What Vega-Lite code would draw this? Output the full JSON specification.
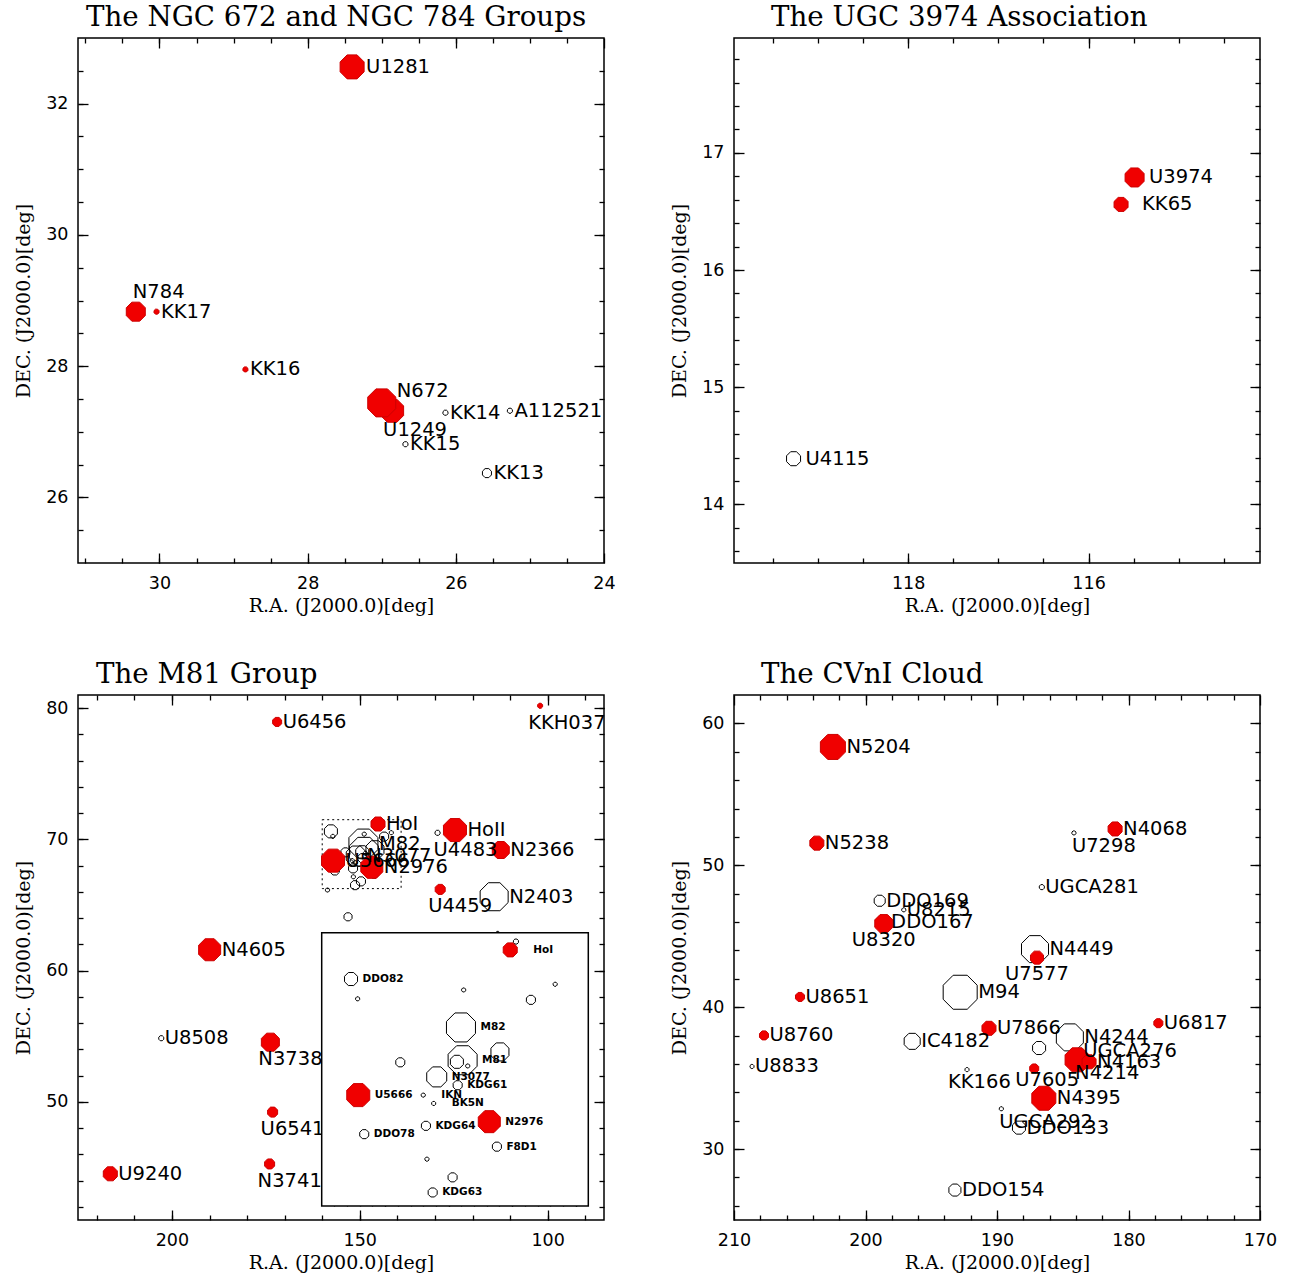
{
  "$schema": "https://vega.github.io/schema/vega-lite/v6.json",
  "background": "white",
  "padding": {"left": 13, "top": 2, "right": 5, "bottom": 5},
  "spacing": {"row": 42, "column": 53},
  "columns": 2,
  "config": {
    "view": {"stroke": "#000000", "strokeWidth": 1.5},
    "title": {"font": "DejaVu Serif", "fontSize": 27.7, "fontWeight": "normal", "anchor": "start", "frame": "group", "baseline": "alphabetic", "offset": 6, "color": "#000000"},
    "axis": {"domain": false, "grid": false, "labelFont": "DejaVu Sans", "labelFontSize": 17.5, "labelColor": "#000000", "titleFont": "DejaVu Serif", "titleFontSize": 19, "titleFontWeight": "normal", "titleColor": "#000000", "tickColor": "#000000", "tickWidth": 1.3, "labelFlush": false, "labelOverlap": false},
    "text": {"font": "DejaVu Sans", "fontSize": 19.5, "color": "#000000"}
  },
  "datasets": {
    "box": [{"ra1": 160, "ra2": 139, "dec1": 66.25, "dec2": 71.5}],
    "p1": [
      {"name": "KK14", "ra": 26.14, "dec": 27.29, "lum": 5, "kind": "open"},
      {"name": "A112521", "ra": 25.27, "dec": 27.32, "lum": 5, "kind": "open"},
      {"name": "KK15", "ra": 26.68, "dec": 26.81, "lum": 5, "kind": "open"},
      {"name": "KK13", "ra": 25.58, "dec": 26.37, "lum": 9, "kind": "open"},
      {"name": "U1281", "ra": 27.40, "dec": 32.56, "lum": 24, "kind": "filled"},
      {"name": "N784", "ra": 30.32, "dec": 28.83, "lum": 19, "kind": "filled"},
      {"name": "KK17", "ra": 30.04, "dec": 28.83, "lum": 5, "kind": "filled"},
      {"name": "KK16", "ra": 28.84, "dec": 27.95, "lum": 5, "kind": "filled"},
      {"name": "U1249", "ra": 26.86, "dec": 27.32, "lum": 23, "kind": "filled"},
      {"name": "N672", "ra": 27.0, "dec": 27.44, "lum": 28, "kind": "filled"}
    ],
    "p2": [
      {"name": "U4115", "ra": 119.27, "dec": 14.39, "lum": 14, "kind": "open"},
      {"name": "U3974", "ra": 115.49, "dec": 16.79, "lum": 19, "kind": "filled"},
      {"name": "KK65", "ra": 115.64, "dec": 16.56, "lum": 14, "kind": "filled"}
    ],
    "m81": [
      {"name": "U8508", "ra": 202.84, "dec": 54.85, "lum": 5, "kind": "open"},
      {"name": "U4483", "ra": 129.3, "dec": 70.5, "lum": 5, "kind": "open"},
      {"name": "N2403", "ra": 114.24, "dec": 65.63, "lum": 28, "kind": "open"},
      {"name": "", "ra": 153.13, "dec": 64.1, "lum": 8, "kind": "open"},
      {"name": "", "ra": 158.6, "dec": 66.14, "lum": 4, "kind": "open"},
      {"name": "", "ra": 113.3, "dec": 62.84, "lum": 4, "kind": "open"},
      {"name": "", "ra": 144.70, "dec": 71.33, "lum": 5, "kind": "open"},
      {"name": "DDO82", "ra": 157.69, "dec": 70.61, "lum": 13, "kind": "open"},
      {"name": "", "ra": 157.17, "dec": 70.23, "lum": 4, "kind": "open"},
      {"name": "", "ra": 148.82, "dec": 70.40, "lum": 4, "kind": "open"},
      {"name": "", "ra": 143.52, "dec": 70.21, "lum": 9, "kind": "open"},
      {"name": "", "ra": 141.61, "dec": 70.51, "lum": 4, "kind": "open"},
      {"name": "M82", "ra": 149.03, "dec": 69.68, "lum": 29, "kind": "open"},
      {"name": "M81", "ra": 148.90, "dec": 69.05, "lum": 29, "kind": "open"},
      {"name": "", "ra": 149.35, "dec": 69.02, "lum": 13, "kind": "open"},
      {"name": "", "ra": 148.50, "dec": 68.94, "lum": 4, "kind": "open"},
      {"name": "", "ra": 145.96, "dec": 69.21, "lum": 18, "kind": "open"},
      {"name": "", "ra": 153.81, "dec": 69.01, "lum": 9, "kind": "open"},
      {"name": "N3077", "ra": 150.94, "dec": 68.73, "lum": 20, "kind": "open"},
      {"name": "KDG61", "ra": 149.29, "dec": 68.57, "lum": 9, "kind": "open"},
      {"name": "IKN", "ra": 152.0, "dec": 68.38, "lum": 4, "kind": "open"},
      {"name": "BK5N", "ra": 151.18, "dec": 68.22, "lum": 4, "kind": "open"},
      {"name": "KDG64", "ra": 151.79, "dec": 67.79, "lum": 9, "kind": "open"},
      {"name": "DDO78", "ra": 156.65, "dec": 67.63, "lum": 9, "kind": "open"},
      {"name": "F8D1", "ra": 146.20, "dec": 67.39, "lum": 9, "kind": "open"},
      {"name": "", "ra": 151.71, "dec": 67.15, "lum": 4, "kind": "open"},
      {"name": "", "ra": 149.69, "dec": 66.80, "lum": 9, "kind": "open"},
      {"name": "KDG63", "ra": 151.26, "dec": 66.51, "lum": 9, "kind": "open"},
      {"name": "U6456", "ra": 172.0, "dec": 78.95, "lum": 9, "kind": "filled"},
      {"name": "KKH037", "ra": 102.0, "dec": 80.18, "lum": 5, "kind": "filled"},
      {"name": "HoII", "ra": 124.67, "dec": 70.71, "lum": 23, "kind": "filled"},
      {"name": "N2366", "ra": 112.47, "dec": 69.19, "lum": 17, "kind": "filled"},
      {"name": "U4459", "ra": 128.6, "dec": 66.19, "lum": 10, "kind": "filled"},
      {"name": "N4605", "ra": 189.96, "dec": 61.59, "lum": 22, "kind": "filled"},
      {"name": "N3738", "ra": 173.8, "dec": 54.55, "lum": 18, "kind": "filled"},
      {"name": "U6541", "ra": 173.2, "dec": 49.22, "lum": 10, "kind": "filled"},
      {"name": "N3741", "ra": 174.0, "dec": 45.27, "lum": 10, "kind": "filled"},
      {"name": "U9240", "ra": 216.4, "dec": 44.52, "lum": 14, "kind": "filled"},
      {"name": "HoI", "ra": 145.15, "dec": 71.17, "lum": 14, "kind": "filled"},
      {"name": "U5666", "ra": 157.12, "dec": 68.38, "lum": 23, "kind": "filled"},
      {"name": "N2976", "ra": 146.80, "dec": 67.87, "lum": 22, "kind": "filled"}
    ],
    "p4": [
      {"name": "U7298", "ra": 184.15, "dec": 52.28, "lum": 4, "kind": "open"},
      {"name": "UGCA281", "ra": 186.59, "dec": 48.46, "lum": 5, "kind": "open"},
      {"name": "DDO169", "ra": 198.92, "dec": 47.50, "lum": 11, "kind": "open"},
      {"name": "U8215", "ra": 197.09, "dec": 46.86, "lum": 4, "kind": "open"},
      {"name": "DDO167", "ra": 198.28, "dec": 45.97, "lum": 4, "kind": "open"},
      {"name": "N4449", "ra": 187.11, "dec": 44.09, "lum": 27, "kind": "open"},
      {"name": "M94", "ra": 192.80, "dec": 41.05, "lum": 34, "kind": "open"},
      {"name": "U8833", "ra": 208.63, "dec": 35.82, "lum": 4, "kind": "open"},
      {"name": "IC4182", "ra": 196.45, "dec": 37.59, "lum": 16, "kind": "open"},
      {"name": "N4244", "ra": 184.46, "dec": 37.87, "lum": 27, "kind": "open"},
      {"name": "", "ra": 186.80, "dec": 37.12, "lum": 13, "kind": "open"},
      {"name": "UGCA276", "ra": 183.67, "dec": 36.93, "lum": 4, "kind": "open"},
      {"name": "KK166", "ra": 192.28, "dec": 35.60, "lum": 4, "kind": "open"},
      {"name": "UGCA292", "ra": 189.67, "dec": 32.84, "lum": 4, "kind": "open"},
      {"name": "DDO133", "ra": 188.33, "dec": 31.51, "lum": 13, "kind": "open"},
      {"name": "DDO154", "ra": 193.20, "dec": 27.11, "lum": 12, "kind": "open"},
      {"name": "N5204", "ra": 202.48, "dec": 58.34, "lum": 25, "kind": "filled"},
      {"name": "N5238", "ra": 203.70, "dec": 51.56, "lum": 14, "kind": "filled"},
      {"name": "N4068", "ra": 181.02, "dec": 52.56, "lum": 14, "kind": "filled"},
      {"name": "U8320", "ra": 198.61, "dec": 45.89, "lum": 18, "kind": "filled"},
      {"name": "U7577", "ra": 186.96, "dec": 43.49, "lum": 13, "kind": "filled"},
      {"name": "U8651", "ra": 204.98, "dec": 40.72, "lum": 9, "kind": "filled"},
      {"name": "U8760", "ra": 207.72, "dec": 38.01, "lum": 9, "kind": "filled"},
      {"name": "U7866", "ra": 190.61, "dec": 38.51, "lum": 14, "kind": "filled"},
      {"name": "N4214", "ra": 183.91, "dec": 36.29, "lum": 24, "kind": "filled"},
      {"name": "N4163", "ra": 183.0, "dec": 36.15, "lum": 14, "kind": "filled"},
      {"name": "U7605", "ra": 187.17, "dec": 35.68, "lum": 9, "kind": "filled"},
      {"name": "N4395", "ra": 186.44, "dec": 33.58, "lum": 24, "kind": "filled"},
      {"name": "U6817", "ra": 177.73, "dec": 38.87, "lum": 9, "kind": "filled"}
    ]
  },
  "concat": [
    {
      "width": 526, "height": 525,
      "title": {"text": "The NGC 672 and NGC 784 Groups", "dx": 8},
      "data": {"name": "p1"},
      "resolve": {"axis": {"x": "independent", "y": "independent"}},
      "layer": [
        {
          "mark": {"type": "point", "shape": "M-0.414,-1L0.414,-1L1,-0.414L1,0.414L0.414,1L-0.414,1L-1,0.414L-1,-0.414Z", "filled": true, "opacity": 1, "strokeWidth": 1},
          "encoding": {
            "x": {"field": "ra", "type": "quantitative", "scale": {"domain": [31.1, 24], "zero": false, "nice": false}, "axis": {"orient": "bottom", "ticks": false, "values": [30, 28, 26, 24], "labelPadding": 11, "title": "R.A. (J2000.0)[deg]", "titlePadding": 5}},
            "y": {"field": "dec", "type": "quantitative", "scale": {"domain": [25, 33], "zero": false, "nice": false}, "axis": {"orient": "left", "ticks": false, "values": [26, 28, 30, 32], "labelPadding": 10, "title": "DEC. (J2000.0)[deg]", "titlePadding": 12}},
            "size": {"field": "lum", "type": "quantitative", "scale": {"type": "pow", "exponent": 2, "domain": [0, 40], "range": [0, 1600]}, "legend": null},
            "fill": {"field": "kind", "type": "nominal", "scale": {"domain": ["filled", "open"], "range": ["#f00000", "transparent"]}, "legend": null},
            "stroke": {"field": "kind", "type": "nominal", "scale": {"domain": ["filled", "open"], "range": ["#cc0000", "#000000"]}, "legend": null}
          }
        },
        {
          "transform": [{"filter": {"field": "name", "oneOf": ["U1281", "KK17", "KK16", "KK14", "A112521", "KK15", "KK13"]}}],
          "mark": {"type": "text", "align": "left", "baseline": "middle", "dx": {"expr": "datum.lum / 2 + 2"}},
          "encoding": {
            "x": {"field": "ra", "type": "quantitative", "scale": {"domain": [31.1, 24], "zero": false, "nice": false}, "axis": {"orient": "bottom", "labels": false, "title": null, "values": [30, 28, 26, 24], "tickSize": 10, "offset": -10}},
            "y": {"field": "dec", "type": "quantitative", "scale": {"domain": [25, 33], "zero": false, "nice": false}, "axis": {"orient": "left", "labels": false, "title": null, "values": [26, 28, 30, 32], "tickSize": 10, "offset": -10}},
            "text": {"field": "name"}
          }
        },
        {
          "transform": [{"filter": {"field": "name", "oneOf": ["N784"]}}],
          "mark": {"type": "text", "align": "left", "baseline": "middle", "dx": -3, "dy": -20},
          "encoding": {
            "x": {"field": "ra", "type": "quantitative", "scale": {"domain": [31.1, 24], "zero": false, "nice": false}, "axis": {"orient": "bottom", "labels": false, "title": null, "values": [24.5, 25, 25.5, 26, 26.5, 27, 27.5, 28, 28.5, 29, 29.5, 30, 30.5, 31], "tickSize": 5, "offset": -5}},
            "y": {"field": "dec", "type": "quantitative", "scale": {"domain": [25, 33], "zero": false, "nice": false}, "axis": {"orient": "left", "labels": false, "title": null, "values": [25.5, 26, 26.5, 27, 27.5, 28, 28.5, 29, 29.5, 30, 30.5, 31, 31.5, 32, 32.5], "tickSize": 5, "offset": -5}},
            "text": {"field": "name"}
          }
        },
        {
          "transform": [{"filter": {"field": "name", "oneOf": ["N672"]}}],
          "mark": {"type": "text", "align": "left", "baseline": "middle", "dx": 15, "dy": -12},
          "encoding": {
            "x": {"field": "ra", "type": "quantitative", "scale": {"domain": [31.1, 24], "zero": false, "nice": false}, "axis": {"orient": "top", "labels": false, "title": null, "values": [30, 28, 26, 24], "tickSize": 10, "offset": -10}},
            "y": {"field": "dec", "type": "quantitative", "scale": {"domain": [25, 33], "zero": false, "nice": false}, "axis": {"orient": "right", "labels": false, "title": null, "values": [26, 28, 30, 32], "tickSize": 10, "offset": -10}},
            "text": {"field": "name"}
          }
        },
        {
          "transform": [{"filter": {"field": "name", "oneOf": ["U1249"]}}],
          "mark": {"type": "text", "align": "left", "baseline": "middle", "dx": -9, "dy": 19},
          "encoding": {
            "x": {"field": "ra", "type": "quantitative", "scale": {"domain": [31.1, 24], "zero": false, "nice": false}, "axis": {"orient": "top", "labels": false, "title": null, "values": [24.5, 25, 25.5, 26, 26.5, 27, 27.5, 28, 28.5, 29, 29.5, 30, 30.5, 31], "tickSize": 5, "offset": -5}},
            "y": {"field": "dec", "type": "quantitative", "scale": {"domain": [25, 33], "zero": false, "nice": false}, "axis": {"orient": "right", "labels": false, "title": null, "values": [25.5, 26, 26.5, 27, 27.5, 28, 28.5, 29, 29.5, 30, 30.5, 31, 31.5, 32, 32.5], "tickSize": 5, "offset": -5}},
            "text": {"field": "name"}
          }
        }
      ]
    },
    {
      "width": 526, "height": 525,
      "title": {"text": "The UGC 3974 Association", "dx": 37},
      "data": {"name": "p2"},
      "resolve": {"axis": {"x": "independent", "y": "independent"}},
      "layer": [
        {
          "mark": {"type": "point", "shape": "M-0.414,-1L0.414,-1L1,-0.414L1,0.414L0.414,1L-0.414,1L-1,0.414L-1,-0.414Z", "filled": true, "opacity": 1, "strokeWidth": 1},
          "encoding": {
            "x": {"field": "ra", "type": "quantitative", "scale": {"domain": [119.93, 114.1], "zero": false, "nice": false}, "axis": {"orient": "bottom", "ticks": false, "values": [118, 116], "labelPadding": 11, "title": "R.A. (J2000.0)[deg]", "titlePadding": 5}},
            "y": {"field": "dec", "type": "quantitative", "scale": {"domain": [13.5, 17.98], "zero": false, "nice": false}, "axis": {"orient": "left", "ticks": false, "values": [14, 15, 16, 17], "labelPadding": 10, "title": "DEC. (J2000.0)[deg]", "titlePadding": 12}},
            "size": {"field": "lum", "type": "quantitative", "scale": {"type": "pow", "exponent": 2, "domain": [0, 40], "range": [0, 1600]}, "legend": null},
            "fill": {"field": "kind", "type": "nominal", "scale": {"domain": ["filled", "open"], "range": ["#f00000", "transparent"]}, "legend": null},
            "stroke": {"field": "kind", "type": "nominal", "scale": {"domain": ["filled", "open"], "range": ["#cc0000", "#000000"]}, "legend": null}
          }
        },
        {
          "transform": [{"filter": {"field": "name", "oneOf": ["U3974", "U4115"]}}],
          "mark": {"type": "text", "align": "left", "baseline": "middle", "dx": {"expr": "datum.lum / 2 + 5"}},
          "encoding": {
            "x": {"field": "ra", "type": "quantitative", "scale": {"domain": [119.93, 114.1], "zero": false, "nice": false}, "axis": {"orient": "bottom", "labels": false, "title": null, "values": [118, 116], "tickSize": 10, "offset": -10}},
            "y": {"field": "dec", "type": "quantitative", "scale": {"domain": [13.5, 17.98], "zero": false, "nice": false}, "axis": {"orient": "left", "labels": false, "title": null, "values": [14, 15, 16, 17], "tickSize": 10, "offset": -10}},
            "text": {"field": "name"}
          }
        },
        {
          "transform": [{"filter": {"field": "name", "oneOf": ["KK65"]}}],
          "mark": {"type": "text", "align": "left", "baseline": "middle", "dx": {"expr": "datum.lum / 2 + 14"}},
          "encoding": {
            "x": {"field": "ra", "type": "quantitative", "scale": {"domain": [119.93, 114.1], "zero": false, "nice": false}, "axis": {"orient": "bottom", "labels": false, "title": null, "values": [114.5, 115, 115.5, 116, 116.5, 117, 117.5, 118, 118.5, 119, 119.5], "tickSize": 5, "offset": -5}},
            "y": {"field": "dec", "type": "quantitative", "scale": {"domain": [13.5, 17.98], "zero": false, "nice": false}, "axis": {"orient": "left", "labels": false, "title": null, "values": [13.6, 13.8, 14, 14.2, 14.4, 14.6, 14.8, 15, 15.2, 15.4, 15.6, 15.8, 16, 16.2, 16.4, 16.6, 16.8, 17, 17.2, 17.4, 17.6, 17.8], "tickSize": 5, "offset": -5}},
            "text": {"field": "name"}
          }
        },
        {
          "mark": {"type": "point", "opacity": 0},
          "encoding": {
            "x": {"field": "ra", "type": "quantitative", "scale": {"domain": [119.93, 114.1], "zero": false, "nice": false}, "axis": {"orient": "top", "labels": false, "title": null, "values": [118, 116], "tickSize": 10, "offset": -10}},
            "y": {"field": "dec", "type": "quantitative", "scale": {"domain": [13.5, 17.98], "zero": false, "nice": false}, "axis": {"orient": "right", "labels": false, "title": null, "values": [14, 15, 16, 17], "tickSize": 10, "offset": -10}}
          }
        },
        {
          "mark": {"type": "point", "opacity": 0},
          "encoding": {
            "x": {"field": "ra", "type": "quantitative", "scale": {"domain": [119.93, 114.1], "zero": false, "nice": false}, "axis": {"orient": "top", "labels": false, "title": null, "values": [114.5, 115, 115.5, 116, 116.5, 117, 117.5, 118, 118.5, 119, 119.5], "tickSize": 5, "offset": -5}},
            "y": {"field": "dec", "type": "quantitative", "scale": {"domain": [13.5, 17.98], "zero": false, "nice": false}, "axis": {"orient": "right", "labels": false, "title": null, "values": [13.6, 13.8, 14, 14.2, 14.4, 14.6, 14.8, 15, 15.2, 15.4, 15.6, 15.8, 16, 16.2, 16.4, 16.6, 16.8, 17, 17.2, 17.4, 17.6, 17.8], "tickSize": 5, "offset": -5}}
          }
        }
      ]
    },
    {
      "width": 526, "height": 525,
      "title": {"text": "The M81 Group", "dx": 18},
      "data": {"name": "m81"},
      "resolve": {"scale": {"x": "independent", "y": "independent"}},
      "layer": [
        {
          "data": {"name": "box"},
          "mark": {"type": "rect", "fill": "#ffffff", "fillOpacity": 0, "stroke": "#000000", "strokeWidth": 1, "strokeDash": [2, 3]},
          "encoding": {
            "x": {"field": "ra1", "type": "quantitative", "scale": {"domain": [225, 85], "zero": false, "nice": false}, "axis": {"orient": "bottom", "ticks": false, "values": [200, 150, 100], "labelPadding": 11, "title": "R.A. (J2000.0)[deg]", "titlePadding": 5}},
            "x2": {"field": "ra2"},
            "y": {"field": "dec1", "type": "quantitative", "scale": {"domain": [41, 81], "zero": false, "nice": false}, "axis": {"orient": "left", "ticks": false, "values": [50, 60, 70, 80], "labelPadding": 10, "title": "DEC. (J2000.0)[deg]", "titlePadding": 12}},
            "y2": {"field": "dec2"}
          }
        },
        {
          "mark": {"type": "point", "shape": "M-0.414,-1L0.414,-1L1,-0.414L1,0.414L0.414,1L-0.414,1L-1,0.414L-1,-0.414Z", "filled": true, "opacity": 1, "strokeWidth": 1},
          "encoding": {
            "x": {"field": "ra", "type": "quantitative", "scale": {"domain": [225, 85], "zero": false, "nice": false}, "axis": {"orient": "bottom", "labels": false, "title": null, "values": [200, 150, 100], "tickSize": 10, "offset": -10}},
            "y": {"field": "dec", "type": "quantitative", "scale": {"domain": [41, 81], "zero": false, "nice": false}, "axis": {"orient": "left", "labels": false, "title": null, "values": [50, 60, 70, 80], "tickSize": 10, "offset": -10}},
            "size": {"field": "lum", "type": "quantitative", "scale": {"type": "pow", "exponent": 2, "domain": [0, 40], "range": [0, 1600]}, "legend": null},
            "fill": {"field": "kind", "type": "nominal", "scale": {"domain": ["filled", "open"], "range": ["#f00000", "transparent"]}, "legend": null},
            "stroke": {"field": "kind", "type": "nominal", "scale": {"domain": ["filled", "open"], "range": ["#cc0000", "#000000"]}, "legend": null}
          }
        },
        {
          "transform": [{"filter": {"field": "name", "oneOf": ["U6456", "HoI", "HoII", "N2366", "N2976", "N2403", "N4605", "U8508", "U9240", "M82", "N3077", "U5666"]}}],
          "mark": {"type": "text", "align": "left", "baseline": "middle", "dx": {"expr": "datum.lum / 2 + 1"}},
          "encoding": {
            "x": {"field": "ra", "type": "quantitative", "scale": {"domain": [225, 85], "zero": false, "nice": false}, "axis": {"orient": "bottom", "labels": false, "title": null, "values": [90, 100, 110, 120, 130, 140, 150, 160, 170, 180, 190, 200, 210, 220], "tickSize": 5, "offset": -5}},
            "y": {"field": "dec", "type": "quantitative", "scale": {"domain": [41, 81], "zero": false, "nice": false}, "axis": {"orient": "left", "labels": false, "title": null, "values": [42, 44, 46, 48, 50, 52, 54, 56, 58, 60, 62, 64, 66, 68, 70, 72, 74, 76, 78, 80], "tickSize": 5, "offset": -5}},
            "text": {"field": "name"}
          }
        },
        {
          "transform": [{"filter": {"field": "name", "oneOf": ["KKH037", "U4459", "N3738", "U6541", "N3741"]}}],
          "mark": {"type": "text", "align": "left", "baseline": "middle", "dx": -12, "dy": 17},
          "encoding": {
            "x": {"field": "ra", "type": "quantitative", "scale": {"domain": [225, 85], "zero": false, "nice": false}, "axis": {"orient": "top", "labels": false, "title": null, "values": [200, 150, 100], "tickSize": 10, "offset": -10}},
            "y": {"field": "dec", "type": "quantitative", "scale": {"domain": [41, 81], "zero": false, "nice": false}, "axis": {"orient": "right", "labels": false, "title": null, "values": [50, 60, 70, 80], "tickSize": 10, "offset": -10}},
            "text": {"field": "name"}
          }
        },
        {
          "transform": [{"filter": {"field": "name", "oneOf": ["U4483"]}}],
          "mark": {"type": "text", "align": "left", "baseline": "middle", "dx": -4, "dy": 17},
          "encoding": {
            "x": {"field": "ra", "type": "quantitative", "scale": {"domain": [225, 85], "zero": false, "nice": false}, "axis": {"orient": "top", "labels": false, "title": null, "values": [90, 100, 110, 120, 130, 140, 150, 160, 170, 180, 190, 200, 210, 220], "tickSize": 5, "offset": -5}},
            "y": {"field": "dec", "type": "quantitative", "scale": {"domain": [41, 81], "zero": false, "nice": false}, "axis": {"orient": "right", "labels": false, "title": null, "values": [42, 44, 46, 48, 50, 52, 54, 56, 58, 60, 62, 64, 66, 68, 70, 72, 74, 76, 78, 80], "tickSize": 5, "offset": -5}},
            "text": {"field": "name"}
          }
        },
        {
          "data": {"name": "box"},
          "mark": {"type": "rect", "fill": "#ffffff", "stroke": "#000000", "strokeWidth": 1.5},
          "encoding": {
            "x": {"field": "ra1", "type": "quantitative", "scale": {"domain": [160, 139], "range": [243.7, 510.3], "zero": false, "nice": false}, "axis": {"orient": "bottom", "labels": false, "title": null, "values": [155, 150, 145, 140], "tickSize": 8, "offset": -22}},
            "x2": {"field": "ra2"},
            "y": {"field": "dec1", "type": "quantitative", "scale": {"domain": [66.25, 71.5], "range": [511, 237.7], "zero": false, "nice": false}, "axis": {"orient": "left", "labels": false, "title": null, "values": [67, 68, 69, 70, 71], "tickSize": 8, "offset": -251.7}},
            "y2": {"field": "dec2"}
          }
        },
        {
          "transform": [{"filter": {"and": [{"field": "ra", "range": [139, 160]}, {"field": "dec", "range": [66.25, 71.5]}]}}],
          "mark": {"type": "point", "shape": "M-0.414,-1L0.414,-1L1,-0.414L1,0.414L0.414,1L-0.414,1L-1,0.414L-1,-0.414Z", "filled": true, "opacity": 1, "strokeWidth": 1},
          "encoding": {
            "x": {"field": "ra", "type": "quantitative", "scale": {"domain": [160, 139], "range": [243.7, 510.3], "zero": false, "nice": false}, "axis": {"orient": "bottom", "labels": false, "title": null, "values": [140, 141, 142, 143, 144, 145, 146, 147, 148, 149, 150, 151, 152, 153, 154, 155, 156, 157, 158, 159], "tickSize": 4, "offset": -18}},
            "y": {"field": "dec", "type": "quantitative", "scale": {"domain": [66.25, 71.5], "range": [511, 237.7], "zero": false, "nice": false}, "axis": {"orient": "left", "labels": false, "title": null, "values": [66.4, 66.6, 66.8, 67, 67.2, 67.4, 67.6, 67.8, 68, 68.2, 68.4, 68.6, 68.8, 69, 69.2, 69.4, 69.6, 69.8, 70, 70.2, 70.4, 70.6, 70.8, 71, 71.2, 71.4], "tickSize": 4, "offset": -247.7}},
            "size": {"field": "lum", "type": "quantitative", "scale": {"type": "pow", "exponent": 2, "domain": [0, 40], "range": [0, 1600]}, "legend": null},
            "fill": {"field": "kind", "type": "nominal", "scale": {"domain": ["filled", "open"], "range": ["#f00000", "transparent"]}, "legend": null},
            "stroke": {"field": "kind", "type": "nominal", "scale": {"domain": ["filled", "open"], "range": ["#cc0000", "#000000"]}, "legend": null}
          }
        },
        {
          "transform": [{"filter": {"field": "name", "oneOf": ["DDO82", "M82", "M81", "N3077", "KDG61", "U5666", "N2976", "KDG64", "DDO78", "F8D1", "KDG63"]}}],
          "mark": {"type": "text", "align": "left", "baseline": "middle", "dx": {"expr": "datum.lum / 2 + 5"}, "fontSize": 10.5, "fontWeight": "bold"},
          "encoding": {
            "x": {"field": "ra", "type": "quantitative", "scale": {"domain": [160, 139], "range": [243.7, 510.3], "zero": false, "nice": false}, "axis": {"orient": "top", "labels": false, "title": null, "values": [155, 150, 145, 140], "tickSize": 8, "offset": -245.7}},
            "y": {"field": "dec", "type": "quantitative", "scale": {"domain": [66.25, 71.5], "range": [511, 237.7], "zero": false, "nice": false}, "axis": {"orient": "right", "labels": false, "title": null, "values": [67, 68, 69, 70, 71], "tickSize": 8, "offset": -23.7}},
            "text": {"field": "name"}
          }
        },
        {
          "transform": [{"filter": {"field": "name", "oneOf": ["HoI", "IKN", "BK5N"]}}],
          "mark": {"type": "text", "align": "left", "baseline": "middle", "dx": {"expr": "datum.lum / 2 + 16"}, "fontSize": 10.5, "fontWeight": "bold"},
          "encoding": {
            "x": {"field": "ra", "type": "quantitative", "scale": {"domain": [160, 139], "range": [243.7, 510.3], "zero": false, "nice": false}, "axis": {"orient": "top", "labels": false, "title": null, "values": [140, 141, 142, 143, 144, 145, 146, 147, 148, 149, 150, 151, 152, 153, 154, 155, 156, 157, 158, 159], "tickSize": 4, "offset": -241.7}},
            "y": {"field": "dec", "type": "quantitative", "scale": {"domain": [66.25, 71.5], "range": [511, 237.7], "zero": false, "nice": false}, "axis": {"orient": "right", "labels": false, "title": null, "values": [66.4, 66.6, 66.8, 67, 67.2, 67.4, 67.6, 67.8, 68, 68.2, 68.4, 68.6, 68.8, 69, 69.2, 69.4, 69.6, 69.8, 70, 70.2, 70.4, 70.6, 70.8, 71, 71.2, 71.4], "tickSize": 4, "offset": -19.7}},
            "text": {"field": "name"}
          }
        }
      ]
    },
    {
      "width": 526, "height": 525,
      "title": {"text": "The CVnI Cloud", "dx": 27},
      "data": {"name": "p4"},
      "resolve": {"axis": {"x": "independent", "y": "independent"}},
      "layer": [
        {
          "mark": {"type": "point", "shape": "M-0.414,-1L0.414,-1L1,-0.414L1,0.414L0.414,1L-0.414,1L-1,0.414L-1,-0.414Z", "filled": true, "opacity": 1, "strokeWidth": 1},
          "encoding": {
            "x": {"field": "ra", "type": "quantitative", "scale": {"domain": [210, 170], "zero": false, "nice": false}, "axis": {"orient": "bottom", "ticks": false, "values": [210, 200, 190, 180, 170], "labelPadding": 11, "title": "R.A. (J2000.0)[deg]", "titlePadding": 5}},
            "y": {"field": "dec", "type": "quantitative", "scale": {"domain": [25, 62], "zero": false, "nice": false}, "axis": {"orient": "left", "ticks": false, "values": [30, 40, 50, 60], "labelPadding": 10, "title": "DEC. (J2000.0)[deg]", "titlePadding": 12}},
            "size": {"field": "lum", "type": "quantitative", "scale": {"type": "pow", "exponent": 2, "domain": [0, 40], "range": [0, 1600]}, "legend": null},
            "fill": {"field": "kind", "type": "nominal", "scale": {"domain": ["filled", "open"], "range": ["#f00000", "transparent"]}, "legend": null},
            "stroke": {"field": "kind", "type": "nominal", "scale": {"domain": ["filled", "open"], "range": ["#cc0000", "#000000"]}, "legend": null}
          }
        },
        {
          "transform": [{"filter": {"field": "name", "oneOf": ["N5204", "N5238", "N4068", "UGCA281", "DDO169", "U8215", "DDO167", "N4449", "M94", "U8651", "U8760", "U8833", "IC4182", "U7866", "N4244", "UGCA276", "N4163", "N4395", "U6817", "DDO133", "DDO154"]}}],
          "mark": {"type": "text", "align": "left", "baseline": "middle", "dx": {"expr": "datum.lum / 2 + 1"}},
          "encoding": {
            "x": {"field": "ra", "type": "quantitative", "scale": {"domain": [210, 170], "zero": false, "nice": false}, "axis": {"orient": "bottom", "labels": false, "title": null, "values": [210, 200, 190, 180, 170], "tickSize": 10, "offset": -10}},
            "y": {"field": "dec", "type": "quantitative", "scale": {"domain": [25, 62], "zero": false, "nice": false}, "axis": {"orient": "left", "labels": false, "title": null, "values": [30, 40, 50, 60], "tickSize": 10, "offset": -10}},
            "text": {"field": "name"}
          }
        },
        {
          "transform": [{"filter": {"field": "name", "oneOf": ["U7298", "N4214", "UGCA292"]}}],
          "mark": {"type": "text", "align": "left", "baseline": "middle", "dx": -2, "dy": 13},
          "encoding": {
            "x": {"field": "ra", "type": "quantitative", "scale": {"domain": [210, 170], "zero": false, "nice": false}, "axis": {"orient": "bottom", "labels": false, "title": null, "values": [172, 174, 176, 178, 180, 182, 184, 186, 188, 190, 192, 194, 196, 198, 200, 202, 204, 206, 208], "tickSize": 5, "offset": -5}},
            "y": {"field": "dec", "type": "quantitative", "scale": {"domain": [25, 62], "zero": false, "nice": false}, "axis": {"orient": "left", "labels": false, "title": null, "values": [26, 28, 30, 32, 34, 36, 38, 40, 42, 44, 46, 48, 50, 52, 54, 56, 58, 60], "tickSize": 5, "offset": -5}},
            "text": {"field": "name"}
          }
        },
        {
          "transform": [{"filter": {"field": "name", "oneOf": ["U8320", "U7577"]}}],
          "mark": {"type": "text", "align": "center", "baseline": "middle", "dy": 16},
          "encoding": {
            "x": {"field": "ra", "type": "quantitative", "scale": {"domain": [210, 170], "zero": false, "nice": false}, "axis": {"orient": "top", "labels": false, "title": null, "values": [210, 200, 190, 180, 170], "tickSize": 10, "offset": -10}},
            "y": {"field": "dec", "type": "quantitative", "scale": {"domain": [25, 62], "zero": false, "nice": false}, "axis": {"orient": "right", "labels": false, "title": null, "values": [30, 40, 50, 60], "tickSize": 10, "offset": -10}},
            "text": {"field": "name"}
          }
        },
        {
          "transform": [{"filter": {"field": "name", "oneOf": ["U7605", "KK166"]}}],
          "mark": {"type": "text", "align": "left", "baseline": "middle", "dx": -19, "dy": 12},
          "encoding": {
            "x": {"field": "ra", "type": "quantitative", "scale": {"domain": [210, 170], "zero": false, "nice": false}, "axis": {"orient": "top", "labels": false, "title": null, "values": [172, 174, 176, 178, 180, 182, 184, 186, 188, 190, 192, 194, 196, 198, 200, 202, 204, 206, 208], "tickSize": 5, "offset": -5}},
            "y": {"field": "dec", "type": "quantitative", "scale": {"domain": [25, 62], "zero": false, "nice": false}, "axis": {"orient": "right", "labels": false, "title": null, "values": [26, 28, 30, 32, 34, 36, 38, 40, 42, 44, 46, 48, 50, 52, 54, 56, 58, 60], "tickSize": 5, "offset": -5}},
            "text": {"field": "name"}
          }
        }
      ]
    }
  ]
}
